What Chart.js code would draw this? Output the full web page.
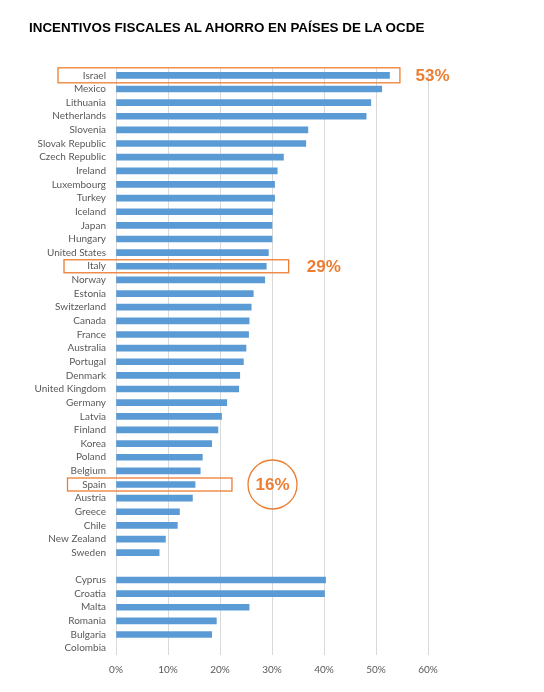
<!DOCTYPE html>
<html>
<head>
<meta charset="utf-8">
<script src="https://cdn.jsdelivr.net/npm/chart.js@4.4.1/dist/chart.umd.min.js"></script>
<style>
  body { margin: 0; background: #fff; }
  #wrap { position: relative; width: 544px; height: 692px; }
  #title {
    position: absolute; left: 29px; top: 20px;
    font: bold 13.4px "Liberation Sans", Arial, sans-serif; color: #000;
    white-space: nowrap;
  }
</style>
</head>
<body>
<div id="wrap">
  <div id="title">INCENTIVOS FISCALES AL AHORRO EN PAÍSES DE LA OCDE</div>
  <canvas id="incentivesChart" width="544" height="692"></canvas>
</div>
<script>
// Countries, top to bottom (empty label = gap between OECD and non-OECD group)
const countries = [
    'Israel', 'Mexico', 'Lithuania', 'Netherlands', 'Slovenia', 'Slovak Republic',
    'Czech Republic', 'Ireland', 'Luxembourg', 'Turkey', 'Iceland', 'Japan',
    'Hungary', 'United States', 'Italy', 'Norway', 'Estonia', 'Switzerland',
    'Canada', 'France', 'Australia', 'Portugal', 'Denmark', 'United Kingdom',
    'Germany', 'Latvia', 'Finland', 'Korea', 'Poland', 'Belgium', 'Spain',
    'Austria', 'Greece', 'Chile', 'New Zealand', 'Sweden',
    '',
    'Cyprus', 'Croatia', 'Malta', 'Romania', 'Bulgaria', 'Colombia'
];

// Tax incentive, %
const incentive = [
    52.6, 51.1, 49.0, 48.1, 36.9, 36.5,
    32.2, 31.0, 30.5, 30.5, 30.1, 30.0,
    30.0, 29.3, 28.9, 28.6, 26.4, 26.0,
    25.6, 25.5, 25.0, 24.5, 23.8, 23.6,
    21.3, 20.3, 19.6, 18.4, 16.6, 16.2, 15.2,
    14.7, 12.2, 11.8, 9.5, 8.3,
    null,
    40.3, 40.1, 25.6, 19.3, 18.4, null
];

// Axis ticks
const xTicks = [0, 10, 20, 30, 40, 50, 60];

// Highlighted countries and their callout text
const highlightCountries = ['Israel', 'Italy', 'Spain'];
const highlightLabels = ['53%', '29%', '16%'];

const ORANGE = '#ed7d31';

// draws the orange boxes / callouts on top of the bars
const callouts = {
    id: 'callouts',
    afterDatasetsDraw(chart) {
        const ctx = chart.ctx;
        const x = chart.scales.x;
        const y = chart.scales.y;
        const left = chart.chartArea.left;
        // box left offset (px from plot left), box right end (value), half height, label position (value)
        const style = [
            { off: 58, end: 54.6, half: 7.5, at: 57.6, circle: false },
            { off: 52, end: 33.2, half: 6.5, at: 36.7, circle: false },
            { off: 48.5, end: 22.3, half: 6.5, at: 30.1, circle: true }
        ];
        ctx.save();
        highlightCountries.forEach((name, i) => {
            const s = style[i];
            const cy = y.getPixelForValue(countries.indexOf(name));
            const x0 = left - s.off;
            const x1 = x.getPixelForValue(s.end);
            ctx.strokeStyle = ORANGE;
            ctx.lineWidth = 1.3;
            ctx.strokeRect(x0, cy - s.half, x1 - x0, s.half * 2);

            ctx.fillStyle = ORANGE;
            ctx.font = 'bold 17px "Liberation Sans", Arial, sans-serif';
            ctx.textBaseline = 'middle';
            if (s.circle) {
                const cx = x.getPixelForValue(s.at);
                ctx.beginPath();
                ctx.arc(cx, cy, 24.5, 0, Math.PI * 2);
                ctx.stroke();
                ctx.textAlign = 'center';
                ctx.fillText(highlightLabels[i], cx, cy + 1);
            } else {
                ctx.textAlign = 'left';
                ctx.fillText(highlightLabels[i], x.getPixelForValue(s.at), cy + 1);
            }
        });
        ctx.restore();
    }
};

var ctx = document.getElementById('incentivesChart').getContext('2d');
var incentivesChart = new Chart(ctx, {
    type: 'bar',
    data: {
        labels: countries,
        datasets: [{
            label: 'Incentivo fiscal',
            data: incentive,
            backgroundColor: '#5b9bd5',
            borderWidth: 0,
            barThickness: 6
        }]
    },
    options: {
        indexAxis: 'y',
        responsive: false,
        animation: false,
        layout: {
            padding: { top: 68.5, right: 116, left: 0, bottom: 0 }
        },
        scales: {
            x: {
                min: 0,
                max: 60,
                afterBuildTicks: scale => {
                    scale.ticks = xTicks.map(v => ({ value: v }));
                },
                afterFit: scale => { scale.height = 37; },
                grid: { color: '#d9d9d9', drawTicks: false },
                border: { display: false },
                ticks: {
                    padding: 9,
                    color: '#595959',
                    font: { family: 'Lato', size: 10 },
                    callback: v => v + '%'
                }
            },
            y: {
                afterFit: scale => { scale.width = 116; },
                grid: { display: false, drawTicks: false },
                border: { display: false },
                ticks: {
                    padding: 10,
                    autoSkip: false,
                    color: '#595959',
                    font: { family: 'Lato', size: 10 }
                }
            }
        },
        plugins: {
            legend: { display: false },
            tooltip: { enabled: false }
        }
    },
    plugins: [callouts]
});
</script>
</body>
</html>
